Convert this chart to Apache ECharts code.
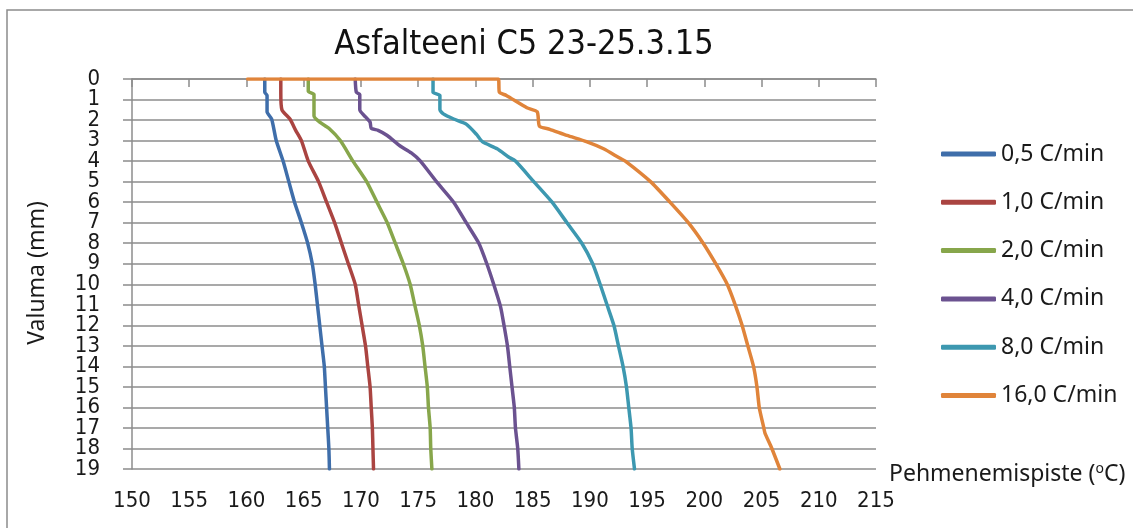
<!DOCTYPE html>
<html>
<head>
<meta charset="utf-8">
<script src="https://cdn.jsdelivr.net/npm/echarts@6/dist/echarts.min.js"></script>
<style>
  html, body { margin: 0; padding: 0; background: #fff; }
  #chart { width: 1133px; height: 528px; }
</style>
</head>
<body>
<div id="chart"></div>
<script>
// [temperature °C, depth mm] pairs
const rate05 = [[161.6,0],[161.6,0.65],[161.8,0.8],[161.8,1.6],[162.2,1.95],[162.6,3],[163.2,4],[163.7,5],[164.2,6],[164.8,7],[165.35,8],[165.75,9],[166.0,10],[166.2,11],[166.4,12],[166.6,13],[166.8,14],[166.9,15],[167.0,16],[167.1,17],[167.2,18],[167.25,19]];
const rate10 = [[163.0,0],[163.0,0.7],[163.1,1.5],[163.8,1.95],[164.3,2.5],[164.8,3],[165.4,4],[166.3,5],[167.0,6],[167.7,7],[168.3,8],[168.9,9],[169.5,10],[169.8,11],[170.1,12],[170.4,13],[170.6,14],[170.8,15],[170.9,16],[171.0,17],[171.05,18],[171.1,19]];
const rate20 = [[165.4,0],[165.4,0.6],[165.9,0.75],[165.9,1.8],[166.4,2.1],[167.2,2.4],[168.2,3],[169.3,4],[170.5,5],[171.4,6],[172.3,7],[173.0,8],[173.7,9],[174.3,10],[174.7,11],[175.1,12],[175.4,13],[175.6,14],[175.8,15],[175.9,16],[176.05,17],[176.1,18],[176.2,19]];
const rate40 = [[169.5,0],[169.6,0.65],[169.9,0.75],[169.9,1.5],[170.4,1.85],[170.8,2.1],[170.9,2.4],[171.5,2.5],[172.3,2.75],[173.4,3.25],[174.4,3.6],[175.2,4],[176.6,5],[178.1,6],[179.2,7],[180.3,8],[181.0,9],[181.6,10],[182.2,11.1],[182.5,12],[182.8,13],[183.0,14],[183.2,15],[183.4,16],[183.5,17],[183.7,18],[183.8,19]];
const rate80 = [[176.3,0],[176.3,0.65],[176.9,0.8],[176.9,1.5],[177.2,1.7],[178.1,1.95],[179.2,2.2],[180.1,2.7],[180.6,3.05],[181.9,3.4],[182.9,3.8],[183.5,4],[185.1,5],[186.7,6],[188.0,7],[189.3,8],[190.25,9],[190.9,10],[191.5,11],[192.1,12],[192.5,13],[192.9,14],[193.2,15],[193.4,16],[193.6,17],[193.7,18],[193.9,19]];
const rate160 = [[160.1,0],[182.0,0],[182.1,0.65],[182.7,0.8],[184.5,1.4],[185.4,1.6],[185.6,2.3],[186.5,2.45],[188.0,2.75],[189.7,3.05],[191.2,3.4],[192.6,3.85],[193.1,4],[195.3,5],[197.0,6],[198.6,7],[199.9,8],[201.0,9],[202.0,10],[202.7,11],[203.3,12],[203.8,13],[204.3,14],[204.6,15],[204.8,16],[205.2,17],[205.3,17.25],[205.9,18],[206.6,19]];

const seriesNames = ["0,5 C/min", "1,0 C/min", "2,0 C/min", "4,0 C/min", "8,0 C/min", "16,0 C/min"];
const seriesData = [rate05, rate10, rate20, rate40, rate80, rate160];
const seriesColors = ["#3f6eaa", "#aa4441", "#87a64b", "#6b5290", "#3d98b0", "#e0843a"];

const chartTitle = "Asfalteeni C5 23-25.3.15";
const yTitle = "Valuma (mm)";

const myChart = echarts.init(document.getElementById("chart"));

const gridColor = "#8c8c8c";
const tickFont = "'DejaVu Sans Condensed', 'Roboto Condensed', Roboto, sans-serif";

// y labels sit 1 mm apart and touch each other, so even and odd ones go on
// two stacked axes to keep echarts from dropping the ones next to 0 and 19
const yLabel = (keepEven) => ({
  margin: 32,
  fontFamily: tickFont,
  fontSize: 22,
  color: "#1a1a1a",
  showMinLabel: true,
  showMaxLabel: true,
  formatter: (v) => ((v % 2 === 0) === keepEven ? String(v) : ""),
});

myChart.setOption({
  animation: false,
  backgroundColor: "#fff",
  color: seriesColors,
  grid: {
    left: 132,
    right: 257,
    top: 79,
    bottom: 59,
  },
  legend: {
    orient: "vertical",
    left: 936,
    top: 137,
    icon: "roundRect",
    itemWidth: 55,
    itemHeight: 5,
    itemGap: 24.3,
    data: seriesNames,
    textStyle: {
      fontFamily: "Noto Sans",
      fontSize: 23,
      lineHeight: 24,
      color: "#1a1a1a",
    },
  },
  xAxis: [
    {
      type: "value",
      position: "bottom",
      min: 150,
      max: 215,
      interval: 5,
      axisLine: { show: false },
      axisTick: { show: false },
      splitLine: { show: false },
      axisLabel: {
        margin: 21,
        fontFamily: tickFont,
        fontSize: 22,
        color: "#1a1a1a",
        showMinLabel: true,
        showMaxLabel: true,
      },
    },
    {
      type: "value",
      position: "top",
      min: 150,
      max: 215,
      interval: 5,
      axisLine: { show: true, lineStyle: { color: gridColor, width: 1.5 } },
      axisTick: { show: true, inside: true, length: 8, lineStyle: { color: gridColor, width: 1.5 } },
      axisLabel: { show: false },
      splitLine: { show: false },
    },
  ],
  yAxis: [
    {
      type: "value",
      position: "left",
      inverse: true,
      min: 0,
      max: 19,
      interval: 1,
      axisLine: { show: true, lineStyle: { color: gridColor, width: 1.5 } },
      axisTick: { show: true, length: 9, lineStyle: { color: gridColor, width: 1.5 } },
      splitLine: { show: true, lineStyle: { color: gridColor, width: 1.5 } },
      axisLabel: yLabel(true),
    },
    {
      type: "value",
      position: "left",
      offset: 0,
      inverse: true,
      min: 0,
      max: 19,
      interval: 1,
      axisLine: { show: false },
      axisTick: { show: false },
      splitLine: { show: false },
      axisLabel: yLabel(false),
    },
  ],
  graphic: [
    {
      type: "rect",
      shape: { x: 7, y: 10, width: 1140, height: 540 },
      style: { fill: "none", stroke: "#8c8c8c", lineWidth: 1.5 },
      silent: true,
    },
    {
      type: "text",
      x: 524,
      y: 45,
      style: {
        text: chartTitle,
        fontFamily: tickFont,
        fontSize: 34,
        fill: "#111",
        align: "center",
        verticalAlign: "middle",
      },
    },
    {
      type: "text",
      x: 37,
      y: 273,
      rotation: Math.PI / 2,
      style: {
        text: yTitle,
        fontFamily: "Noto Sans",
        fontSize: 23,
        fill: "#1a1a1a",
        align: "center",
        verticalAlign: "middle",
      },
    },
    {
      type: "text",
      x: 889,
      y: 474,
      style: {
        text: "Pehmenemispiste ({sup|o}C)",
        fontFamily: "Noto Sans",
        fontSize: 23,
        fill: "#1a1a1a",
        align: "left",
        verticalAlign: "middle",
        rich: {
          sup: { fontFamily: "Noto Sans", fontSize: 14, verticalAlign: "top", padding: [0, 0, 10, 0] },
        },
      },
    },
  ],
  series: seriesNames.map((name, i) => ({
    name: name,
    type: "line",
    xAxisIndex: 0,
    yAxisIndex: 0,
    data: seriesData[i],
    symbol: "none",
    smooth: 0.2,
    lineStyle: { width: 3.5, color: seriesColors[i], cap: "round", join: "round" },
  })),
});
</script>
</body>
</html>
